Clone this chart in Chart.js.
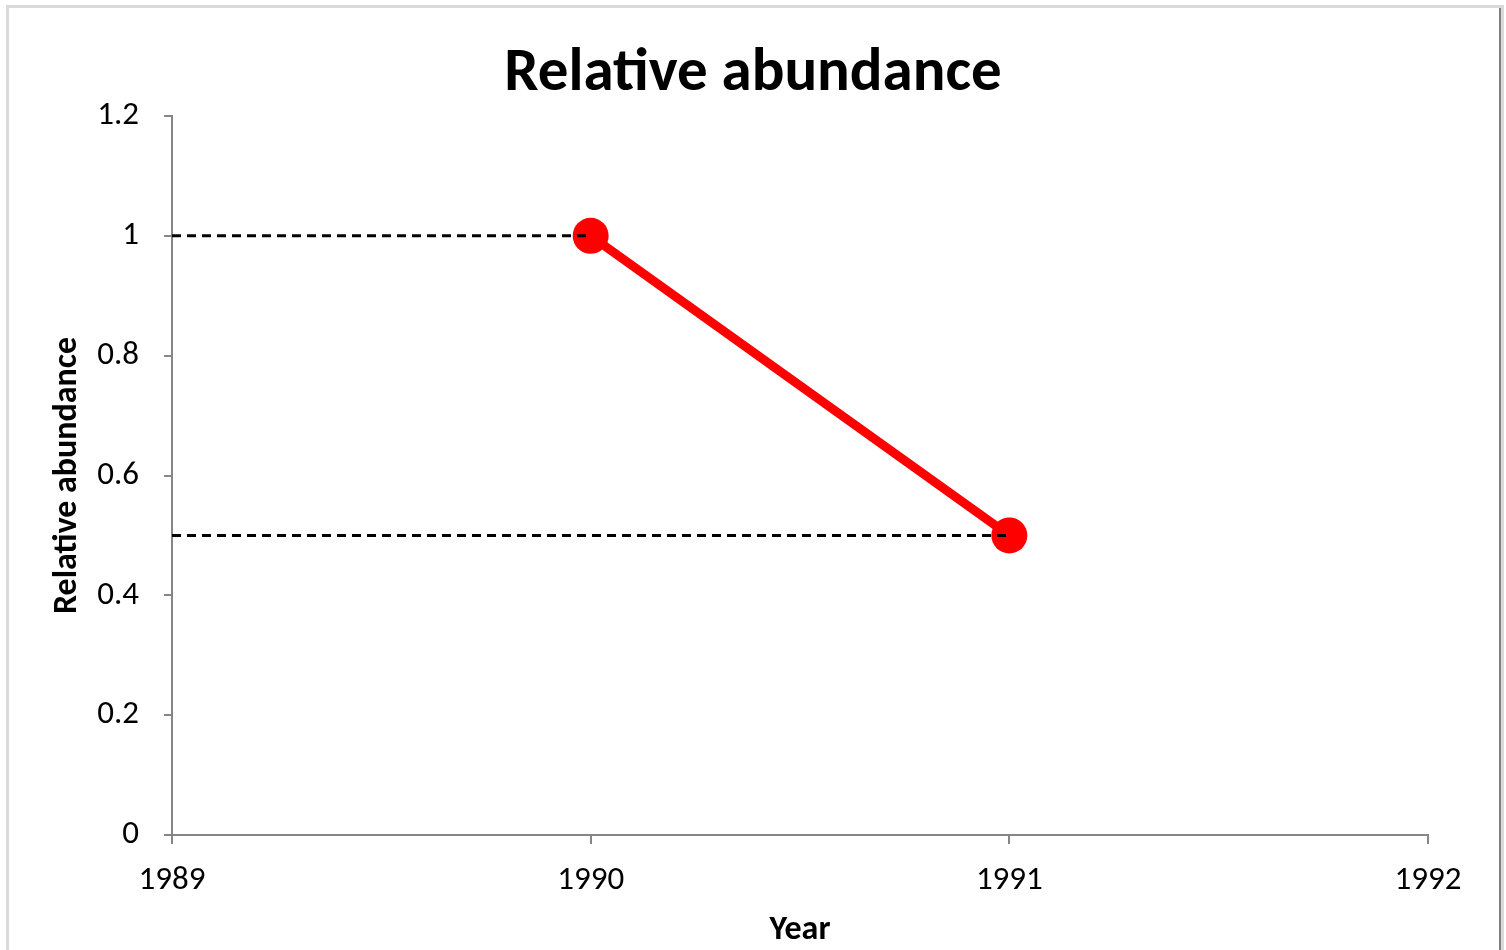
<!DOCTYPE html>
<html>
<head>
<meta charset="utf-8">
<script src="https://cdn.jsdelivr.net/npm/chart.js@4/dist/chart.umd.min.js"></script>
<style>
  html, body { margin: 0; padding: 0; background: #ffffff; }
  #wrap { position: absolute; left: 0; top: 0; width: 1506px; height: 950px; }
</style>
</head>
<body>
<div id="wrap"><canvas id="chart" width="1506" height="950"></canvas></div>
<script>
// Observed relative abundance per year
const years = [1990, 1991];
const abundance = [1, 0.5];

// Axis ranges and tick labels
const xTicks = [1989, 1990, 1991, 1992];
const yTicks = [0, 0.2, 0.4, 0.6, 0.8, 1, 1.2];

const FONT = "Carlito, Calibri, 'Liberation Sans', Arial, sans-serif";

const points = years.map((yr, i) => ({ x: yr, y: abundance[i] }));

// Dashed reference lines from the y axis to each observation
const guides = years.map((yr, i) => ({
  label: 'guide ' + yr,
  data: [{ x: xTicks[0], y: abundance[i] }, { x: yr, y: abundance[i] }],
  showLine: true,
  borderColor: '#000000',
  borderWidth: 3,
  borderDash: [9, 6],
  pointRadius: 0,
  fill: false
}));

const framePlugin = {
  id: 'frame',
  beforeDraw(chart) {
    const ctx = chart.ctx;
    ctx.save();
    ctx.fillStyle = '#ffffff';
    ctx.fillRect(0, 0, chart.width, chart.height);
    ctx.strokeStyle = '#d9d9d9';
    ctx.lineWidth = 3;
    ctx.strokeRect(7.5, 6.5, 1495, 960);
    ctx.strokeStyle = '#808080';
    ctx.lineWidth = 2;
    ctx.beginPath();
    ctx.moveTo(1500, 8);
    ctx.lineTo(1500, 950);
    ctx.stroke();
    ctx.restore();
  }
};

new Chart(document.getElementById('chart'), {
  type: 'scatter',
  data: {
    datasets: [
      ...guides,
      {
        label: 'Relative abundance',
        data: points,
        showLine: true,
        borderColor: '#ff0000',
        backgroundColor: '#ff0000',
        borderWidth: 9,
        pointRadius: 18,
        pointHoverRadius: 18,
        pointBorderWidth: 0
      }
    ]
  },
  options: {
    responsive: false,
    animation: false,
    events: [],
    layout: { padding: 0 },
    plugins: {
      legend: { display: false },
      tooltip: { enabled: false },
      title: {
        display: true,
        text: 'Relative abundance',
        color: '#000000',
        font: { family: FONT, size: 61, weight: 'bold', lineHeight: 1.2 },
        padding: { top: 38, bottom: 4.8 }
      }
    },
    scales: {
      x: {
        type: 'linear',
        min: xTicks[0],
        max: xTicks[xTicks.length - 1],
        afterBuildTicks(scale) { scale.ticks = xTicks.map(v => ({ value: v })); },
        afterFit(scale) { scale.height = 115; },
        border: { display: true, color: '#868686', width: 2 },
        grid: { drawOnChartArea: false, drawTicks: true, tickLength: 9, color: '#868686', lineWidth: 2 },
        ticks: {
          color: '#000000',
          padding: 17,
          font: { family: FONT, size: 33 },
          callback: v => String(v)
        },
        title: {
          display: true,
          text: 'Year',
          color: '#000000',
          font: { family: FONT, size: 34, weight: 'bold', lineHeight: 1.2 },
          padding: { top: 0, bottom: -1 }
        }
      },
      y: {
        type: 'linear',
        min: yTicks[0],
        max: yTicks[yTicks.length - 1],
        afterBuildTicks(scale) { scale.ticks = yTicks.map(v => ({ value: v })); },
        afterFit(scale) { scale.width = 172; },
        border: { display: true, color: '#868686', width: 2 },
        grid: { drawOnChartArea: false, drawTicks: true, tickLength: 8, color: '#868686', lineWidth: 2 },
        ticks: {
          color: '#000000',
          padding: 25,
          font: { family: FONT, size: 33 },
          callback: v => String(Number(v.toFixed(1)))
        },
        title: {
          display: true,
          text: 'Relative abundance',
          color: '#000000',
          font: { family: FONT, size: 34, weight: 'bold', lineHeight: 1.2 },
          padding: { top: 47, bottom: 0 }
        }
      },
      // empty right-hand gutter so the plot ends at 1992 short of the frame
      gutter: {
        type: 'linear',
        position: 'right',
        display: true,
        afterFit(scale) { scale.width = 78; },
        border: { display: false },
        grid: { display: false },
        ticks: { display: false }
      }
    }
  },
  plugins: [framePlugin]
});
</script>
</body>
</html>
